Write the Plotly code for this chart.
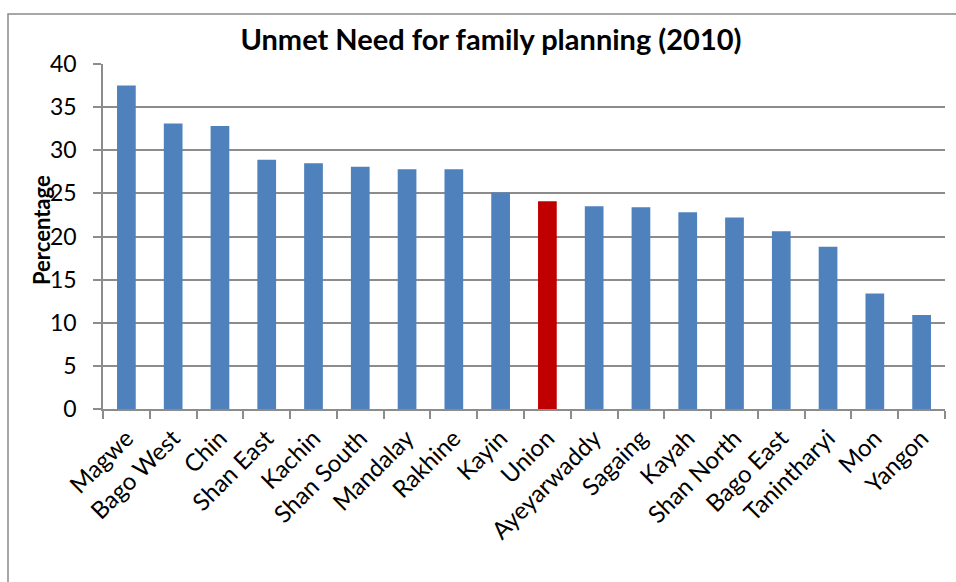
import plotly.graph_objects as go

# Unmet need for family planning by state/region, 2010 (%)
regions = ["Magwe", "Bago West", "Chin", "Shan East", "Kachin", "Shan South",
           "Mandalay", "Rakhine", "Kayin", "Union", "Ayeyarwaddy", "Sagaing",
           "Kayah", "Shan North", "Bago East", "Tanintharyi", "Mon", "Yangon"]
unmet_need = [37.5, 33.1, 32.8, 28.9, 28.5, 28.1,
              27.8, 27.8, 25.1, 24.1, 23.5, 23.4,
              22.8, 22.2, 20.6, 18.8, 13.4, 10.9]
y_ticks = [0, 5, 10, 15, 20, 25, 30, 35, 40]

BLUE = "#4F81BD"
RED = "#C00000"
GRID = "#8C8C8C"
colors = [RED if r == "Union" else BLUE for r in regions]

W, H = 956, 582
L, R, T, B = 103, 11, 64, 173
pw, ph = W - L - R, H - T - B


def px_to_paper_x(px):
    return (px - L) / pw


def px_to_paper_y(py):
    return (H - B - py) / ph


fig = go.Figure(
    go.Bar(
        x=regions,
        y=unmet_need,
        marker=dict(color=colors, line=dict(width=0)),
        hoverinfo="x+y",
    )
)

fig.update_layout(
    width=W,
    height=H,
    margin=dict(l=L, r=R, t=T, b=B),
    paper_bgcolor="white",
    plot_bgcolor="white",
    bargap=0.6,
    showlegend=False,
    font=dict(family="Lato, 'Open Sans', sans-serif", color="black"),
    title=dict(
        text="<b>Unmet Need for family planning (2010)</b>",
        x=px_to_paper_x(491),
        xref="paper",
        xanchor="center",
        y=1 - 40 / H,
        yanchor="middle",
        font=dict(size=29, family="Lato, sans-serif", color="black"),
    ),
    xaxis=dict(
        type="category",
        tickangle=-45,
        tickson="boundaries",
        ticks="outside",
        ticklen=8,
        tickwidth=1.5,
        tickcolor=GRID,
        showline=True,
        linecolor=GRID,
        linewidth=1.5,
        showgrid=False,
        ticklabelstandoff=4,
        tickfont=dict(size=24, color="black"),
    ),
    yaxis=dict(
        range=[0, 40],
        tickvals=y_ticks,
        ticks="outside",
        ticklen=8,
        tickwidth=1.5,
        tickcolor=GRID,
        showline=True,
        linecolor=GRID,
        linewidth=1.5,
        showgrid=True,
        gridcolor=GRID,
        gridwidth=1.5,
        zeroline=False,
        ticklabelstandoff=12,
        tickfont=dict(size=23, color="black"),
    ),
    annotations=[
        dict(
            text="<b>Percentage</b>",
            xref="paper", yref="paper",
            x=px_to_paper_x(41), y=px_to_paper_y(230),
            xanchor="center", yanchor="middle",
            textangle=-90,
            showarrow=False,
            font=dict(size=22, color="black"),
        )
    ],
    shapes=[
        # outer chart frame
        dict(
            type="rect", xref="paper", yref="paper",
            x0=px_to_paper_x(8), x1=px_to_paper_x(W + 10),
            y0=px_to_paper_y(H + 10), y1=px_to_paper_y(14),
            line=dict(color="#8A8A8A", width=1.5),
            fillcolor="rgba(0,0,0,0)",
            layer="below",
        )
    ],
)

fig.write_html("out.html")
